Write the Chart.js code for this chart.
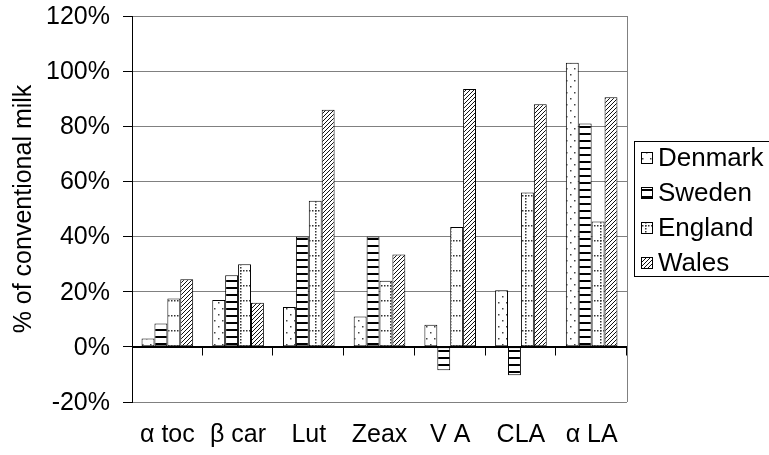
<!DOCTYPE html>
<html>
<head>
<meta charset="utf-8">
<script src="https://cdn.jsdelivr.net/npm/chart.js@4/dist/chart.umd.min.js"></script>
<style>
  body { margin: 0; background: #fff; }
  #wrap { width: 769px; height: 455px; position: relative; }
</style>
</head>
<body>
<div id="wrap"><canvas id="milk-chart"></canvas></div>
<script>
var categories = ['α toc', 'β car', 'Lut', 'Zeax', 'V A', 'CLA', 'α LA'];
var seriesNames = ['Denmark', 'Sweden', 'England', 'Wales'];
var denmark = [3, 17, 14.5, 11, 8, 20.5, 103];
var sweden  = [8.5, 26, 40, 40, -8.5, -10.3, 81];
var england = [17.5, 30, 53, 24, 43.5, 56, 45.5];
var wales   = [24.5, 16, 86, 33.5, 93.5, 88, 90.5];
var yTicks  = [-20, 0, 20, 40, 60, 80, 100, 120];
var yTitle  = '% of conventional milk';

var FONT = "'Liberation Sans', Arial, sans-serif";

// fill patterns like the old excel b/w ones
function makePattern(w, h, draw){
  var c = document.createElement('canvas');
  c.width = w; c.height = h;
  var g = c.getContext('2d');
  g.fillStyle = '#fff';
  g.fillRect(0, 0, w, h);
  draw(g);
  return document.getElementById('milk-chart').getContext('2d').createPattern(c, 'repeat');
}

var patterns = [
  makePattern(8, 12, function(g){ // sparse dots
    g.fillStyle = '#444';
    g.fillRect(2, 2, 1.5, 1.5);
    g.fillRect(6, 8, 1.5, 1.5);
  }),
  makePattern(4, 7, function(g){ // horizontal lines
    g.fillStyle = '#000';
    g.fillRect(0, 0, 4, 2);
  }),
  makePattern(15, 15, function(g){ // dotted grid
    g.fillStyle = '#333';
    for (var i = 0; i < 15; i += 3) {
      g.fillRect(i, 0, 1.5, 1.5);
      g.fillRect(0, i, 1.5, 1.5);
    }
  }),
  makePattern(4, 4, function(g){ // diagonal hatch
    g.strokeStyle = '#111';
    g.lineWidth = 1;
    g.beginPath();
    g.moveTo(0, 4); g.lineTo(4, 0);
    g.moveTo(-1, 1); g.lineTo(1, -1);
    g.moveTo(3, 5); g.lineTo(5, 3);
    g.stroke();
  })
];

var values = [denmark, sweden, england, wales];
var datasets = seriesNames.map(function(name, i){
  return {
    label: name,
    data: values[i],
    backgroundColor: patterns[i],
    borderColor: '#000',
    borderWidth: 1,
    borderSkipped: false,
    categoryPercentage: 0.73,
    barPercentage: 1
  };
});

// right frame edge + little ticks on the zero line
var framePlugin = {
  id: 'frame',
  afterDatasetsDraw: function(chart){
    var ctx = chart.ctx, a = chart.chartArea;
    var y = chart.scales.y;
    var y0 = Math.round(y.getPixelForValue(0)) + 0.5;
    ctx.save();
    ctx.strokeStyle = '#808080';
    ctx.lineWidth = 1;
    ctx.beginPath();
    ctx.moveTo(Math.round(a.right) + 0.5, a.top);
    ctx.lineTo(Math.round(a.right) + 0.5, a.bottom);
    ctx.stroke();
    ctx.strokeStyle = '#000';
    ctx.beginPath();
    ctx.moveTo(a.left, y0); ctx.lineTo(a.right, y0);
    var step = (a.right - a.left) / categories.length;
    for (var i = 1; i <= categories.length; i++) {
      var px = Math.round(a.left + step * i) - 0.5;
      ctx.moveTo(px, y0); ctx.lineTo(px, y0 + 8);
    }
    ctx.stroke();
    ctx.restore();
  }
};

// legend box on the right, drawn by hand so it sits where excel put it
var legendPlugin = {
  id: 'boxLegend',
  afterDraw: function(chart){
    var ctx = chart.ctx;
    ctx.save();
    ctx.strokeStyle = '#000';
    ctx.lineWidth = 1;
    ctx.strokeRect(634.5, 141.5, 140, 135);
    ctx.font = '26px ' + FONT;
    ctx.textBaseline = 'middle';
    for (var i = 0; i < seriesNames.length; i++) {
      var cy = Math.round(158 + i * 35);
      ctx.fillStyle = patterns[i];
      ctx.fillRect(641, cy - 6, 12, 12);
      ctx.strokeRect(641.5, cy - 5.5, 11, 11);
      ctx.fillStyle = '#000';
      ctx.fillText(seriesNames[i], 658, cy + 1);
    }
    ctx.restore();
  }
};

new Chart(document.getElementById('milk-chart'), {
  type: 'bar',
  data: { labels: categories, datasets: datasets },
  plugins: [framePlugin, legendPlugin],
  options: {
    responsive: true,
    maintainAspectRatio: false,
    animation: false,
    layout: { padding: { left: 0, top: 16, right: 142, bottom: 0 } },
    plugins: {
      legend: { display: false },
      tooltip: { enabled: false }
    },
    scales: {
      x: {
        grid: { display: false },
        border: { display: false },
        ticks: { color: '#000', font: { family: FONT, size: 25 }, padding: 10, maxRotation: 0 },
        afterFit: function(s){ s.height = 53; }
      },
      y: {
        min: -20,
        max: 120,
        afterBuildTicks: function(s){ s.ticks = yTicks.map(function(v){ return { value: v }; }); },
        grid: {
          color: function(c){ return c.tick && c.tick.value === 0 ? '#000' : '#808080'; },
          tickColor: '#000',
          tickLength: 9
        },
        border: { display: true, color: '#000', width: 1 },
        ticks: {
          color: '#000',
          font: { family: FONT, size: 25 },
          padding: 13,
          labelOffset: 1,
          callback: function(v){ return v + '%'; }
        },
        title: {
          display: true,
          text: yTitle,
          color: '#000',
          font: { family: FONT, size: 25 },
          padding: { top: 9, bottom: 0 }
        },
        afterFit: function(s){ s.width = 132; s.paddingTop = 0; s.paddingBottom = 0; }
      }
    }
  }
});
</script>
</body>
</html>
